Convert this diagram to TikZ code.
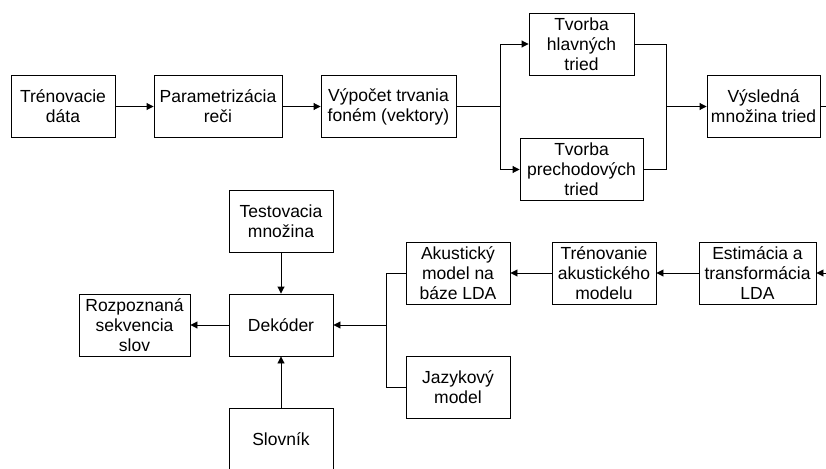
\documentclass[tikz,border=0pt]{standalone}
\usepackage{fontspec}
\setmainfont{Liberation Sans}
\usetikzlibrary{arrows.meta}

\begin{document}
\begin{tikzpicture}[x=1pt, y=-1pt, line width=0.9pt,
    every node/.style={font=\fontsize{17.5}{20}\selectfont},
    blok/.style={draw, rectangle, align=center, inner sep=0pt,
      minimum width=104pt, minimum height=62pt},
    sip/.style={-{Triangle[length=7pt, width=7pt]}}]
    \clip (0,0) rectangle (826,468);
    % upper chain: training data up to the class sets
    \node[blok] (tren) at (63,106.5) {Trénovacie\\dáta};
    \node[blok, minimum width=128pt] (param) at (218,106.5) {Parametrizácia\\reči};
    \node[blok, minimum width=135pt] (vypocet) at (388.5,106.5) {Výpočet trvania\\foném (vektory)};
    \node[blok, minimum width=105pt] (hlavne) at (581.5,44) {Tvorba\\hlavných\\tried};
    \node[blok, minimum width=123pt] (prechod) at (581.5,169.5) {Tvorba\\prechodových\\tried};
    \node[blok, minimum width=113pt] (vysledna) at (763.5,106.5) {Výsledná\\množina tried};
    \coordinate (jL) at (500,106.5);
    \coordinate (jR) at (666,106.5);
    \coordinate (outR) at (826,106.5);
    \draw[sip] (tren) -- (param);
    \draw[sip] (param) -- (vypocet);
    \draw (vypocet) -- (jL);
    \draw[sip] (jL) |- (hlavne);
    \draw[sip] (jL) |- (prechod);
    \draw (hlavne) -| (jR);
    \draw (prechod) -| (jR);
    \draw[sip] (jR) -- (vysledna);
    \draw (vysledna) -- (outR);
    % lower part: decoder and its inputs
    \node[blok] (test) at (281,221) {Testovacia\\množina};
    \node[blok] (dekoder) at (281,325) {Dekóder};
    \node[blok, minimum width=111pt] (rozp) at (134.5,325) {Rozpoznaná\\sekvencia\\slov};
    \node[blok] (slovnik) at (281,439) {Slovník};
    \node[blok] (akust) at (458,273) {Akustický\\model na\\báze LDA};
    \node[blok] (jazyk) at (458,387.5) {Jazykový\\model};
    \node[blok] (trenak) at (604,273) {Trénovanie\\akustického\\modelu};
    \node[blok, minimum width=117pt] (estim) at (757.5,273) {Estimácia a\\transformácia\\LDA};
    \coordinate (jD) at (386,325);
    \coordinate (inR) at (826,273);
    \draw[sip] (test) -- (dekoder);
    \draw[sip] (slovnik) -- (dekoder);
    \draw[sip] (dekoder) -- (rozp);
    \draw (akust) -| (jD);
    \draw (jazyk) -| (jD);
    \draw[sip] (jD) -- (dekoder);
    \draw[sip] (trenak) -- (akust);
    \draw[sip] (estim) -- (trenak);
    \draw[sip] (inR) -- (estim);
\end{tikzpicture}
\end{document}
